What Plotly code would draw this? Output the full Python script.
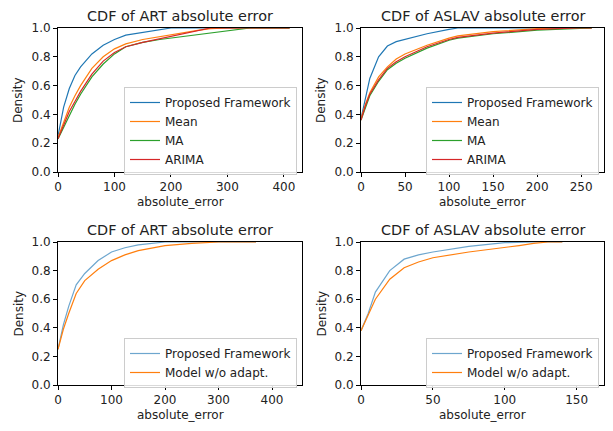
import plotly.graph_objects as go

W, H = 613, 431
OFF = 8  # the page body adds an 8px margin; compensate so the picture lines up

# ---------------- data ----------------
# Top-left: CDF of ART absolute error
art_x = [0, 10, 20, 30, 40, 60, 80, 100, 120, 150, 180, 200, 250, 270, 300, 340, 410]
art_prop = [0.25, 0.45, 0.58, 0.67, 0.73, 0.82, 0.88, 0.92, 0.95, 0.97, 0.99, 1.0, 1.0, 1.0, 1.0, 1.0, 1.0]
art_mean = [0.24, 0.35, 0.45, 0.53, 0.60, 0.72, 0.80, 0.855, 0.89, 0.92, 0.94, 0.955, 0.985, 0.995, 1.0, 1.0, 1.0]
art_ma = [0.23, 0.31, 0.40, 0.47, 0.54, 0.66, 0.75, 0.82, 0.87, 0.90, 0.92, 0.93, 0.955, 0.965, 0.985, 1.0, 1.0]
art_arima = [0.23, 0.33, 0.42, 0.49, 0.56, 0.68, 0.77, 0.83, 0.87, 0.90, 0.925, 0.94, 0.98, 1.0, 1.0, 1.0, 1.0]

# Top-right: CDF of ASLAV absolute error
aslav_x = [0, 5, 10, 20, 30, 40, 50, 75, 100, 110, 150, 200, 230, 240, 250, 262]
aslav_prop = [0.37, 0.52, 0.65, 0.80, 0.875, 0.905, 0.92, 0.96, 0.99, 1.0, 1.0, 1.0, 1.0, 1.0, 1.0, 1.0]
aslav_mean = [0.37, 0.47, 0.55, 0.66, 0.73, 0.785, 0.82, 0.88, 0.93, 0.945, 0.975, 0.995, 1.0, 1.0, 1.0, 1.0]
aslav_ma = [0.36, 0.45, 0.53, 0.63, 0.71, 0.755, 0.79, 0.86, 0.915, 0.93, 0.96, 0.985, 0.993, 0.997, 1.0, 1.0]
aslav_arima = [0.36, 0.46, 0.54, 0.64, 0.72, 0.765, 0.80, 0.87, 0.92, 0.935, 0.965, 0.99, 0.997, 1.0, 1.0, 1.0]

# Bottom-left: ART, framework vs. model without adaptation
art2_x = [0, 10, 20, 34, 50, 75, 100, 125, 150, 175, 200, 250, 300, 370]
art2_prop = [0.25, 0.42, 0.55, 0.70, 0.78, 0.87, 0.93, 0.96, 0.98, 0.99, 1.0, 1.0, 1.0, 1.0]
art2_noadapt = [0.25, 0.39, 0.50, 0.64, 0.73, 0.81, 0.87, 0.91, 0.94, 0.96, 0.975, 0.99, 1.0, 1.0]

# Bottom-right: ASLAV, framework vs. model without adaptation
aslav2_x = [0, 5, 10, 20, 30, 40, 50, 75, 100, 110, 120, 130, 140]
aslav2_prop = [0.38, 0.50, 0.65, 0.80, 0.88, 0.91, 0.93, 0.97, 0.995, 1.0, 1.0, 1.0, 1.0]
aslav2_noadapt = [0.38, 0.49, 0.60, 0.74, 0.82, 0.86, 0.89, 0.93, 0.96, 0.975, 0.99, 1.0, 1.0]

titles = ["CDF of ART absolute error", "CDF of ASLAV absolute error",
          "CDF of ART absolute error", "CDF of ASLAV absolute error"]
x_ranges = [[0, 432], [0, 276], [0, 456], [0, 169]]
x_dticks = [100, 50, 100, 50]

BLUE = "#1f77b4"
BLUE_LIGHT = "rgba(31,119,180,0.65)"
ORANGE = "#ff7f0e"
GREEN = "#2ca02c"
RED = "#d62728"

FONT = "DejaVu Sans"

# ---------------- layout geometry (pixels, in the screenshot) ----------------
# (left, right, top, bottom)
boxes = [(58, 302, 28, 172), (361, 604, 28, 172), (58, 302, 242, 385), (361, 604, 242, 385)]
legend_tops = [87, 87, 338, 338]

def px_x(p):
    return (p - OFF) / W

def px_y(p):
    return 1 - (p - OFF) / H

fig = go.Figure()

series = [
    (1, art_x, [("Proposed Framework", art_prop, BLUE), ("Mean", art_mean, ORANGE),
                ("MA", art_ma, GREEN), ("ARIMA", art_arima, RED)]),
    (2, aslav_x, [("Proposed Framework", aslav_prop, BLUE), ("Mean", aslav_mean, ORANGE),
                  ("MA", aslav_ma, GREEN), ("ARIMA", aslav_arima, RED)]),
    (3, art2_x, [("Proposed Framework", art2_prop, BLUE_LIGHT), ("Model w/o adapt.", art2_noadapt, ORANGE)]),
    (4, aslav2_x, [("Proposed Framework", aslav2_prop, BLUE_LIGHT), ("Model w/o adapt.", aslav2_noadapt, ORANGE)]),
]

for idx, xs, lines in series:
    sfx = "" if idx == 1 else str(idx)
    for name, ys, col in lines:
        fig.add_trace(go.Scatter(
            x=xs, y=ys, mode="lines", name=name,
            line=dict(color=col, width=1.2),
            xaxis="x" + sfx, yaxis="y" + sfx,
            legend="legend" + sfx,
        ))

layout = dict(
    width=W, height=H,
    margin=dict(l=0, r=0, t=0, b=0, pad=0, autoexpand=False),
    paper_bgcolor="white", plot_bgcolor="white",
    font=dict(family=FONT, size=12, color="#222"),
    showlegend=True,
)

annotations = []
for i, (l, r, t, b) in enumerate(boxes):
    sfx = "" if i == 0 else str(i + 1)
    axis_common = dict(
        showline=True, linecolor="black", linewidth=1, mirror=True,
        ticks="outside", ticklen=4, tickcolor="black", showgrid=False,
        zeroline=False, automargin=False,
        tickfont=dict(family=FONT, size=12, color="#222"),
    )
    layout["xaxis" + sfx] = dict(
        domain=[px_x(l), px_x(r)], anchor="y" + sfx,
        range=x_ranges[i], tickmode="linear", tick0=0, dtick=x_dticks[i],
        **axis_common,
    )
    layout["yaxis" + sfx] = dict(
        domain=[px_y(b), px_y(t)], anchor="x" + sfx,
        range=[0, 1], tickmode="linear", tick0=0, dtick=0.2, tickformat=".1f",
        **axis_common,
    )
    # legend
    layout["legend" + sfx] = dict(
        x=px_x(r - 5), y=px_y(legend_tops[i]), xanchor="right", yanchor="top",
        bgcolor="rgba(255,255,255,0.85)", bordercolor="#cccccc", borderwidth=1,
        font=dict(family=FONT, size=12, color="#222"),
        tracegroupgap=0, itemwidth=30,
    )
    cx = (l + r) / 2
    annotations.append(dict(text=titles[i], x=px_x(cx), y=px_y(t - 12), xref="paper", yref="paper",
                            showarrow=False, xanchor="center", yanchor="middle",
                            font=dict(family=FONT, size=14.4, color="#222")))
    annotations.append(dict(text="absolute_error", x=px_x(cx), y=px_y(b + 30),
                            xref="paper", yref="paper", showarrow=False,
                            xanchor="center", yanchor="middle",
                            font=dict(family=FONT, size=12, color="#222")))
    annotations.append(dict(text="Density", x=px_x(l - 40), y=px_y((t + b) / 2),
                            xref="paper", yref="paper", showarrow=False, textangle=-90,
                            xanchor="center", yanchor="middle",
                            font=dict(family=FONT, size=12, color="#222")))

layout["annotations"] = annotations
fig.update_layout(**layout)

fig.write_html("out.html")
